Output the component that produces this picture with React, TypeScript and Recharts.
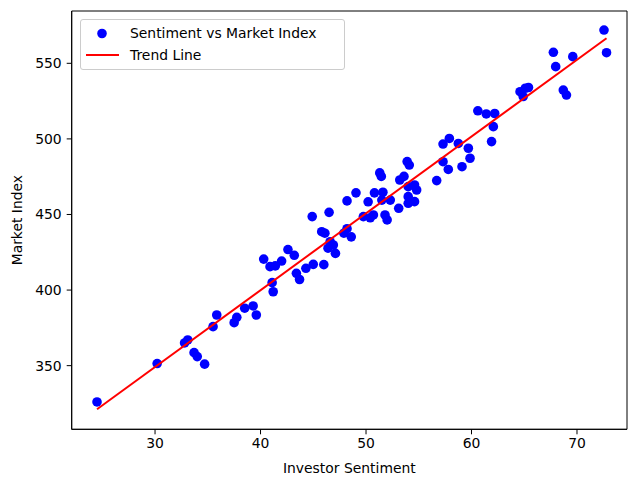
import React from 'react';
import { ScatterChart, Scatter, XAxis, YAxis, Legend, ReferenceArea } from 'recharts';

const sentiment = [
  24.5, 30.2, 32.8, 33.1, 33.7, 34.0, 34.7, 35.5, 35.85, 37.5, 37.75, 38.5, 39.3, 39.6, 40.3, 40.9,
  41.4, 42.0, 42.6, 43.2, 41.1, 41.2, 43.4, 43.7, 44.3, 45.0, 46.0, 44.9, 46.5, 45.8, 46.1, 46.6,
  46.9, 47.1, 46.4, 47.9, 48.2, 48.6, 48.2, 49.05, 49.75, 50.4, 50.7, 50.2, 50.8, 51.6, 51.5, 51.3,
  51.45, 51.8, 52.0, 52.3, 53.1, 53.2, 53.6, 54.0, 54.6, 54.8, 53.9, 54.1, 54.0, 54.0, 54.6, 56.7,
  57.3, 57.8, 57.3, 57.9, 58.75, 59.7, 59.86, 59.1, 60.6, 61.4, 62.2, 62.07, 61.9, 64.6, 65.1, 65.4,
  64.9, 67.76, 67.98, 69.6, 68.7, 69.0, 72.56, 72.8,
];

const marketIndex = [
  326, 351.4, 365, 367, 358.6, 356, 351, 375.8, 383.5, 378.4, 382, 388, 389.5, 383.5, 420.5, 415.5,
  416, 419.2, 426.8, 423, 404.9, 398.9, 411.1, 407, 414.4, 417, 416.8, 448.6, 451.4, 438.6, 437.6, 432,
  429.8, 424.3, 427.7, 437.6, 440.6, 435.2, 459, 464.3, 448.6, 447.8, 449.7, 458.4, 464.3, 464.7, 459.5, 477.5,
  475.2, 449.7, 446.4, 459.5, 454.1, 472.8, 475.2, 468.4, 469.5, 466.2, 485, 482.7, 461.8, 457.4, 458.5, 472.4,
  484.9, 479.8, 496.6, 500.3, 497, 493.8, 487.2, 481.6, 518.6, 516.5, 516.8, 508.1, 498.2, 531.2, 533.5, 534,
  528, 557.3, 547.8, 554.4, 532.3, 529, 572, 557,
];

const trendX = [24.5, 72.8];
const trendY = [321.2, 566.6];

const xTicks = [30, 40, 50, 60, 70];
const yTicks = [350, 400, 450, 500, 550];
const xDomain = [22.1, 74.74];
const yDomain = [307.9, 584.6];

const scatterData = sentiment.map((x, i) => ({ x, y: marketIndex[i] }));
const trendData = trendX.map((x, i) => ({ x, y: trendY[i] }));

const FONT = '"DejaVu Sans", sans-serif';
const FS = 13.9;
const DOT_R = 4.8;

const Dot = (props: any) => <circle cx={props.cx} cy={props.cy} r={DOT_R} fill="#0000ff" />;
const NoDot = () => <g />;

const LegendBox = () => (
  <div
    style={{
      position: 'relative',
      width: 265,
      height: 51,
      boxSizing: 'border-box',
      border: '1px solid #cccccc',
      borderRadius: 3,
      background: 'rgba(255,255,255,0.8)',
      fontFamily: FONT,
      fontSize: FS,
      color: '#000',
    }}
  >
    <svg width={50} height={51} style={{ position: 'absolute', left: 0, top: 0 }}>
      <circle cx={21} cy={13.5} r={DOT_R} fill="#0000ff" />
      <line x1={5} x2={38} y1={35} y2={35} stroke="#ff0000" strokeWidth={2} />
    </svg>
    <span style={{ position: 'absolute', left: 49, top: 13.5 - 8.5, lineHeight: '17px', whiteSpace: 'nowrap' }}>
      Sentiment vs Market Index
    </span>
    <span style={{ position: 'absolute', left: 49, top: 35 - 8.5, lineHeight: '17px', whiteSpace: 'nowrap' }}>
      Trend Line
    </span>
  </div>
);

export default function App() {
  return (
    <div style={{ position: 'absolute', left: 0, top: 0, background: '#fff' }}>
      <ScatterChart width={628} height={477} margin={{ top: 11, right: 1, bottom: 0, left: 0 }}>
        <XAxis
          type="number"
          dataKey="x"
          domain={xDomain}
          allowDataOverflow
          ticks={xTicks}
          height={47.7}
          tickSize={5}
          tickMargin={4}
          stroke="#000"
          tick={{ fill: '#000', fontSize: FS, fontFamily: FONT }}
          label={{
            value: 'Investor Sentiment',
            position: 'insideBottom',
            offset: 4,
            style: { fill: '#000', fontSize: FS, fontFamily: FONT },
          }}
        />
        <YAxis
          type="number"
          dataKey="y"
          domain={yDomain}
          allowDataOverflow
          ticks={yTicks}
          width={71.7}
          tickSize={5}
          tickMargin={5}
          stroke="#000"
          tick={{ fill: '#000', fontSize: FS, fontFamily: FONT }}
          label={{
            value: 'Market Index',
            angle: -90,
            position: 'insideLeft',
            offset: 17,
            style: { fill: '#000', fontSize: FS, fontFamily: FONT, textAnchor: 'middle' },
          }}
        />
        <ReferenceArea
          x1={xDomain[0]}
          x2={xDomain[1]}
          y1={yDomain[0]}
          y2={yDomain[1]}
          fill="none"
          fillOpacity={0}
          stroke="#000"
          strokeWidth={1}
          ifOverflow="visible"
        />
        <Scatter
          name="Sentiment vs Market Index"
          data={scatterData}
          shape={Dot}
          fill="#0000ff"
          isAnimationActive={false}
        />
        <Scatter
          name="Trend Line"
          data={trendData}
          line={{ stroke: '#ff0000', strokeWidth: 2 }}
          shape={NoDot}
          fill="#ff0000"
          isAnimationActive={false}
        />
        <Legend
          layout="vertical"
          align="center"
          verticalAlign="middle"
          content={() => <LegendBox />}
          wrapperStyle={{ left: 80, top: 19, width: 265, height: 51 }}
        />
      </ScatterChart>
    </div>
  );
}
